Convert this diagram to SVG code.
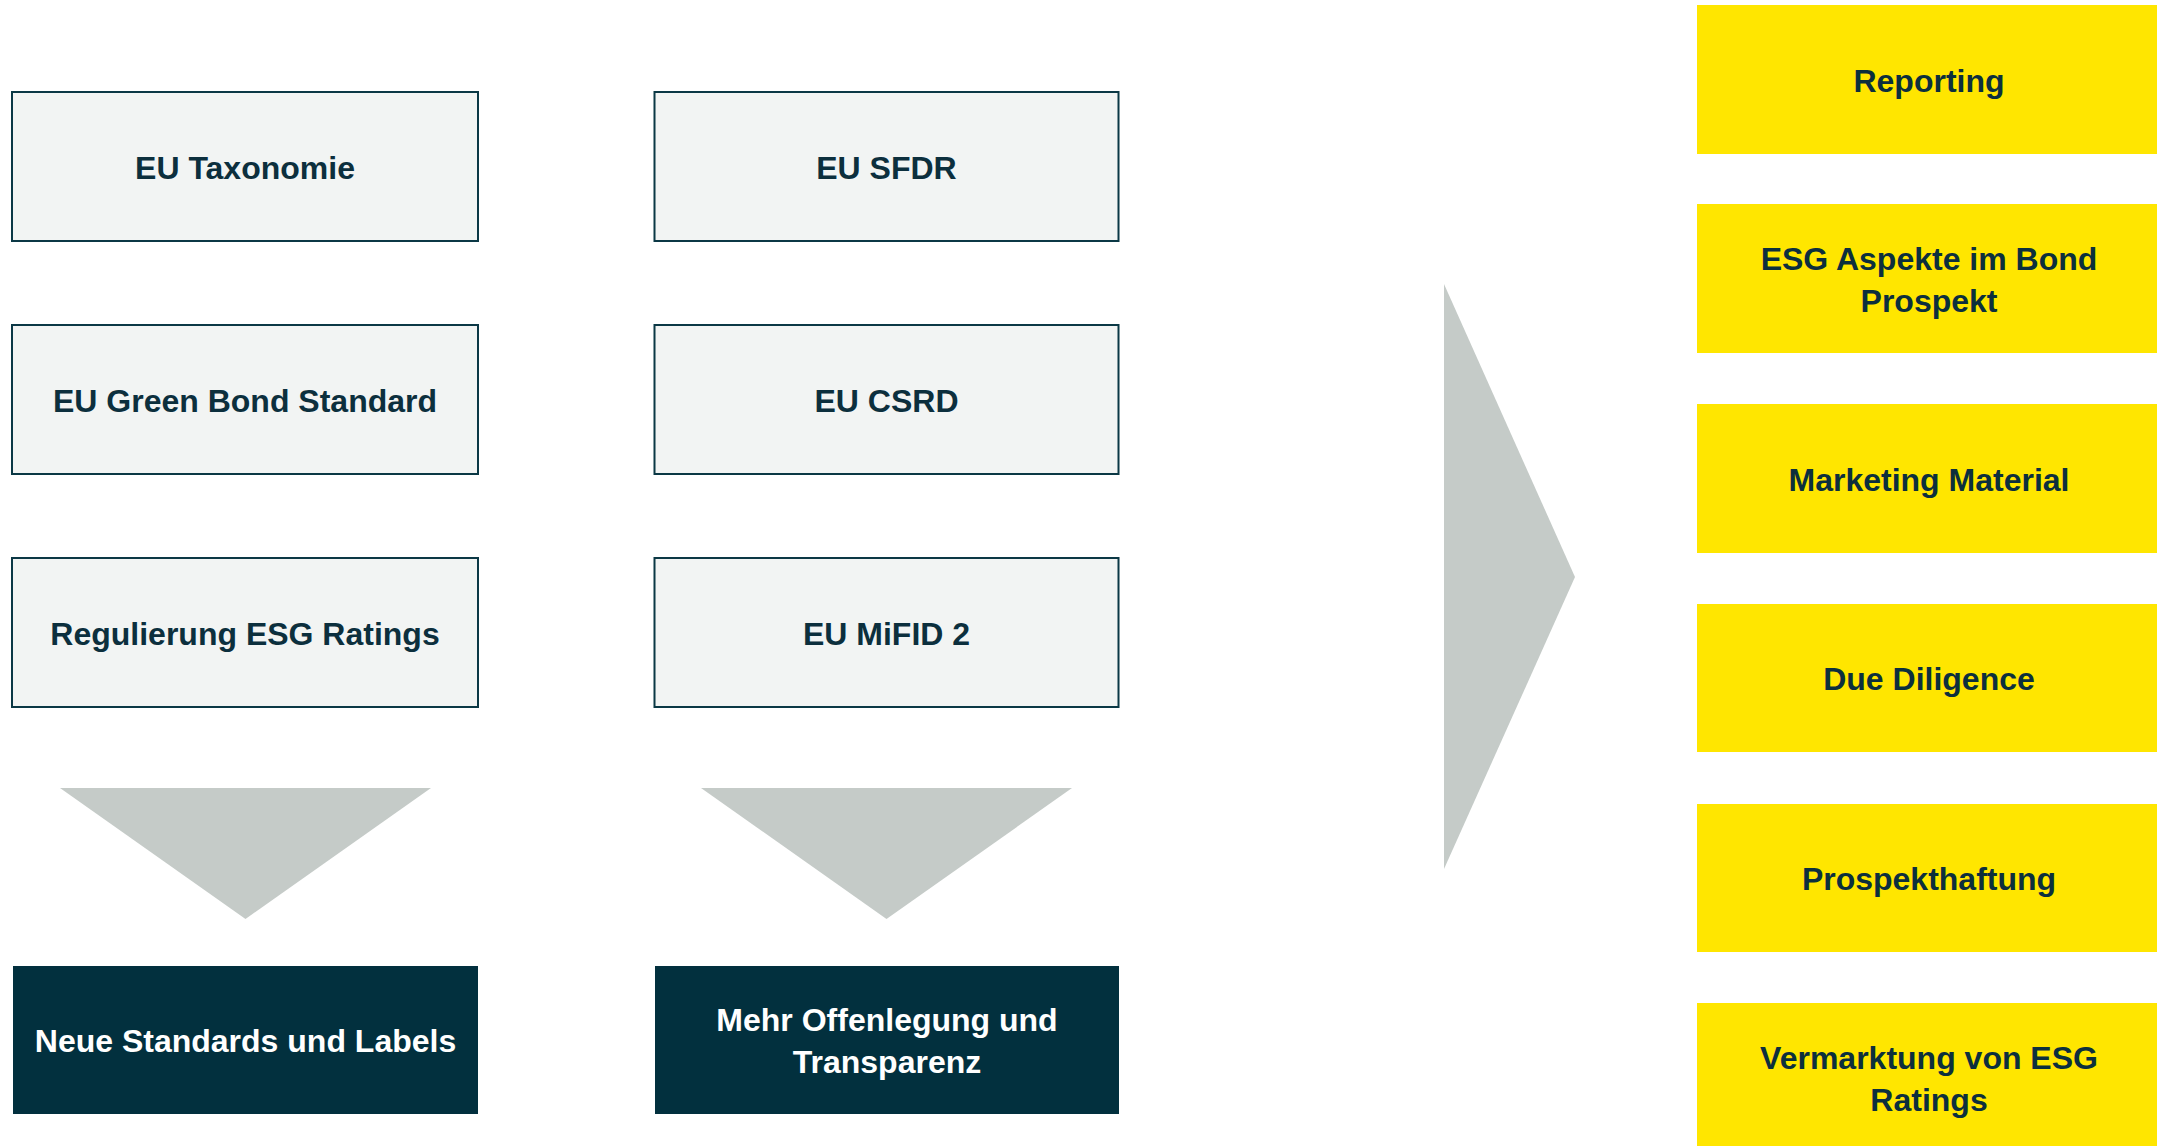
<svg xmlns="http://www.w3.org/2000/svg" width="2157" height="1146" viewBox="0 0 2157 1146">
<style>
.lt{fill:#f2f4f3;stroke:#0b3845;stroke-width:2}
.dk{fill:#02303e}
.yl{fill:#ffe600}
.tri{fill:#c5cbc8}
text{font-family:"Liberation Sans",Arial,sans-serif;font-weight:bold;font-size:32px;text-anchor:middle}
.td{fill:#0c2f3d}
.tw{fill:#ffffff}
</style>
<rect width="2157" height="1146" fill="#ffffff"/>
<g id="connectors">
<polygon class="tri" points="60,788 431,788 245.5,919"/>
<polygon class="tri" points="701,788 1072,788 886.5,919"/>
<polygon class="tri" points="1444,284 1575,577 1444,869"/>
</g>
<g id="n-taxonomie"><rect class="lt" x="12" y="92" width="466" height="149"/><text class="td" x="245" y="179">EU Taxonomie</text></g>
<g id="n-greenbond"><rect class="lt" x="12" y="325" width="466" height="149"/><text class="td" x="245" y="412">EU Green Bond Standard</text></g>
<g id="n-ratings"><rect class="lt" x="12" y="558" width="466" height="149"/><text class="td" x="245" y="645">Regulierung ESG Ratings</text></g>
<g id="n-sfdr"><rect class="lt" x="654.5" y="92" width="464" height="149"/><text class="td" x="886.5" y="179">EU SFDR</text></g>
<g id="n-csrd"><rect class="lt" x="654.5" y="325" width="464" height="149"/><text class="td" x="886.5" y="412">EU CSRD</text></g>
<g id="n-mifid"><rect class="lt" x="654.5" y="558" width="464" height="149"/><text class="td" x="886.5" y="645">EU MiFID 2</text></g>
<g id="n-standards"><rect class="dk" x="13" y="966" width="465" height="148"/><text class="tw" x="245.5" y="1052">Neue Standards und Labels</text></g>
<g id="n-offenlegung"><rect class="dk" x="655" y="966" width="464" height="148"/><text class="tw" x="887" y="1031">Mehr Offenlegung und</text><text class="tw" x="887" y="1073">Transparenz</text></g>
<g id="n-reporting"><rect class="yl" x="1697" y="5" width="466" height="149"/><text class="td" x="1929" y="92">Reporting</text></g>
<g id="n-esgbond"><rect class="yl" x="1697" y="204" width="466" height="149"/><text class="td" x="1929" y="270">ESG Aspekte im Bond</text><text class="td" x="1929" y="312">Prospekt</text></g>
<g id="n-marketing"><rect class="yl" x="1697" y="404" width="466" height="149"/><text class="td" x="1929" y="491">Marketing Material</text></g>
<g id="n-duediligence"><rect class="yl" x="1697" y="604" width="466" height="148"/><text class="td" x="1929" y="690">Due Diligence</text></g>
<g id="n-prospekthaftung"><rect class="yl" x="1697" y="804" width="466" height="148"/><text class="td" x="1929" y="890">Prospekthaftung</text></g>
<g id="n-vermarktung"><rect class="yl" x="1697" y="1003" width="466" height="149"/><text class="td" x="1929" y="1069">Vermarktung von ESG</text><text class="td" x="1929" y="1111">Ratings</text></g>
</svg>
